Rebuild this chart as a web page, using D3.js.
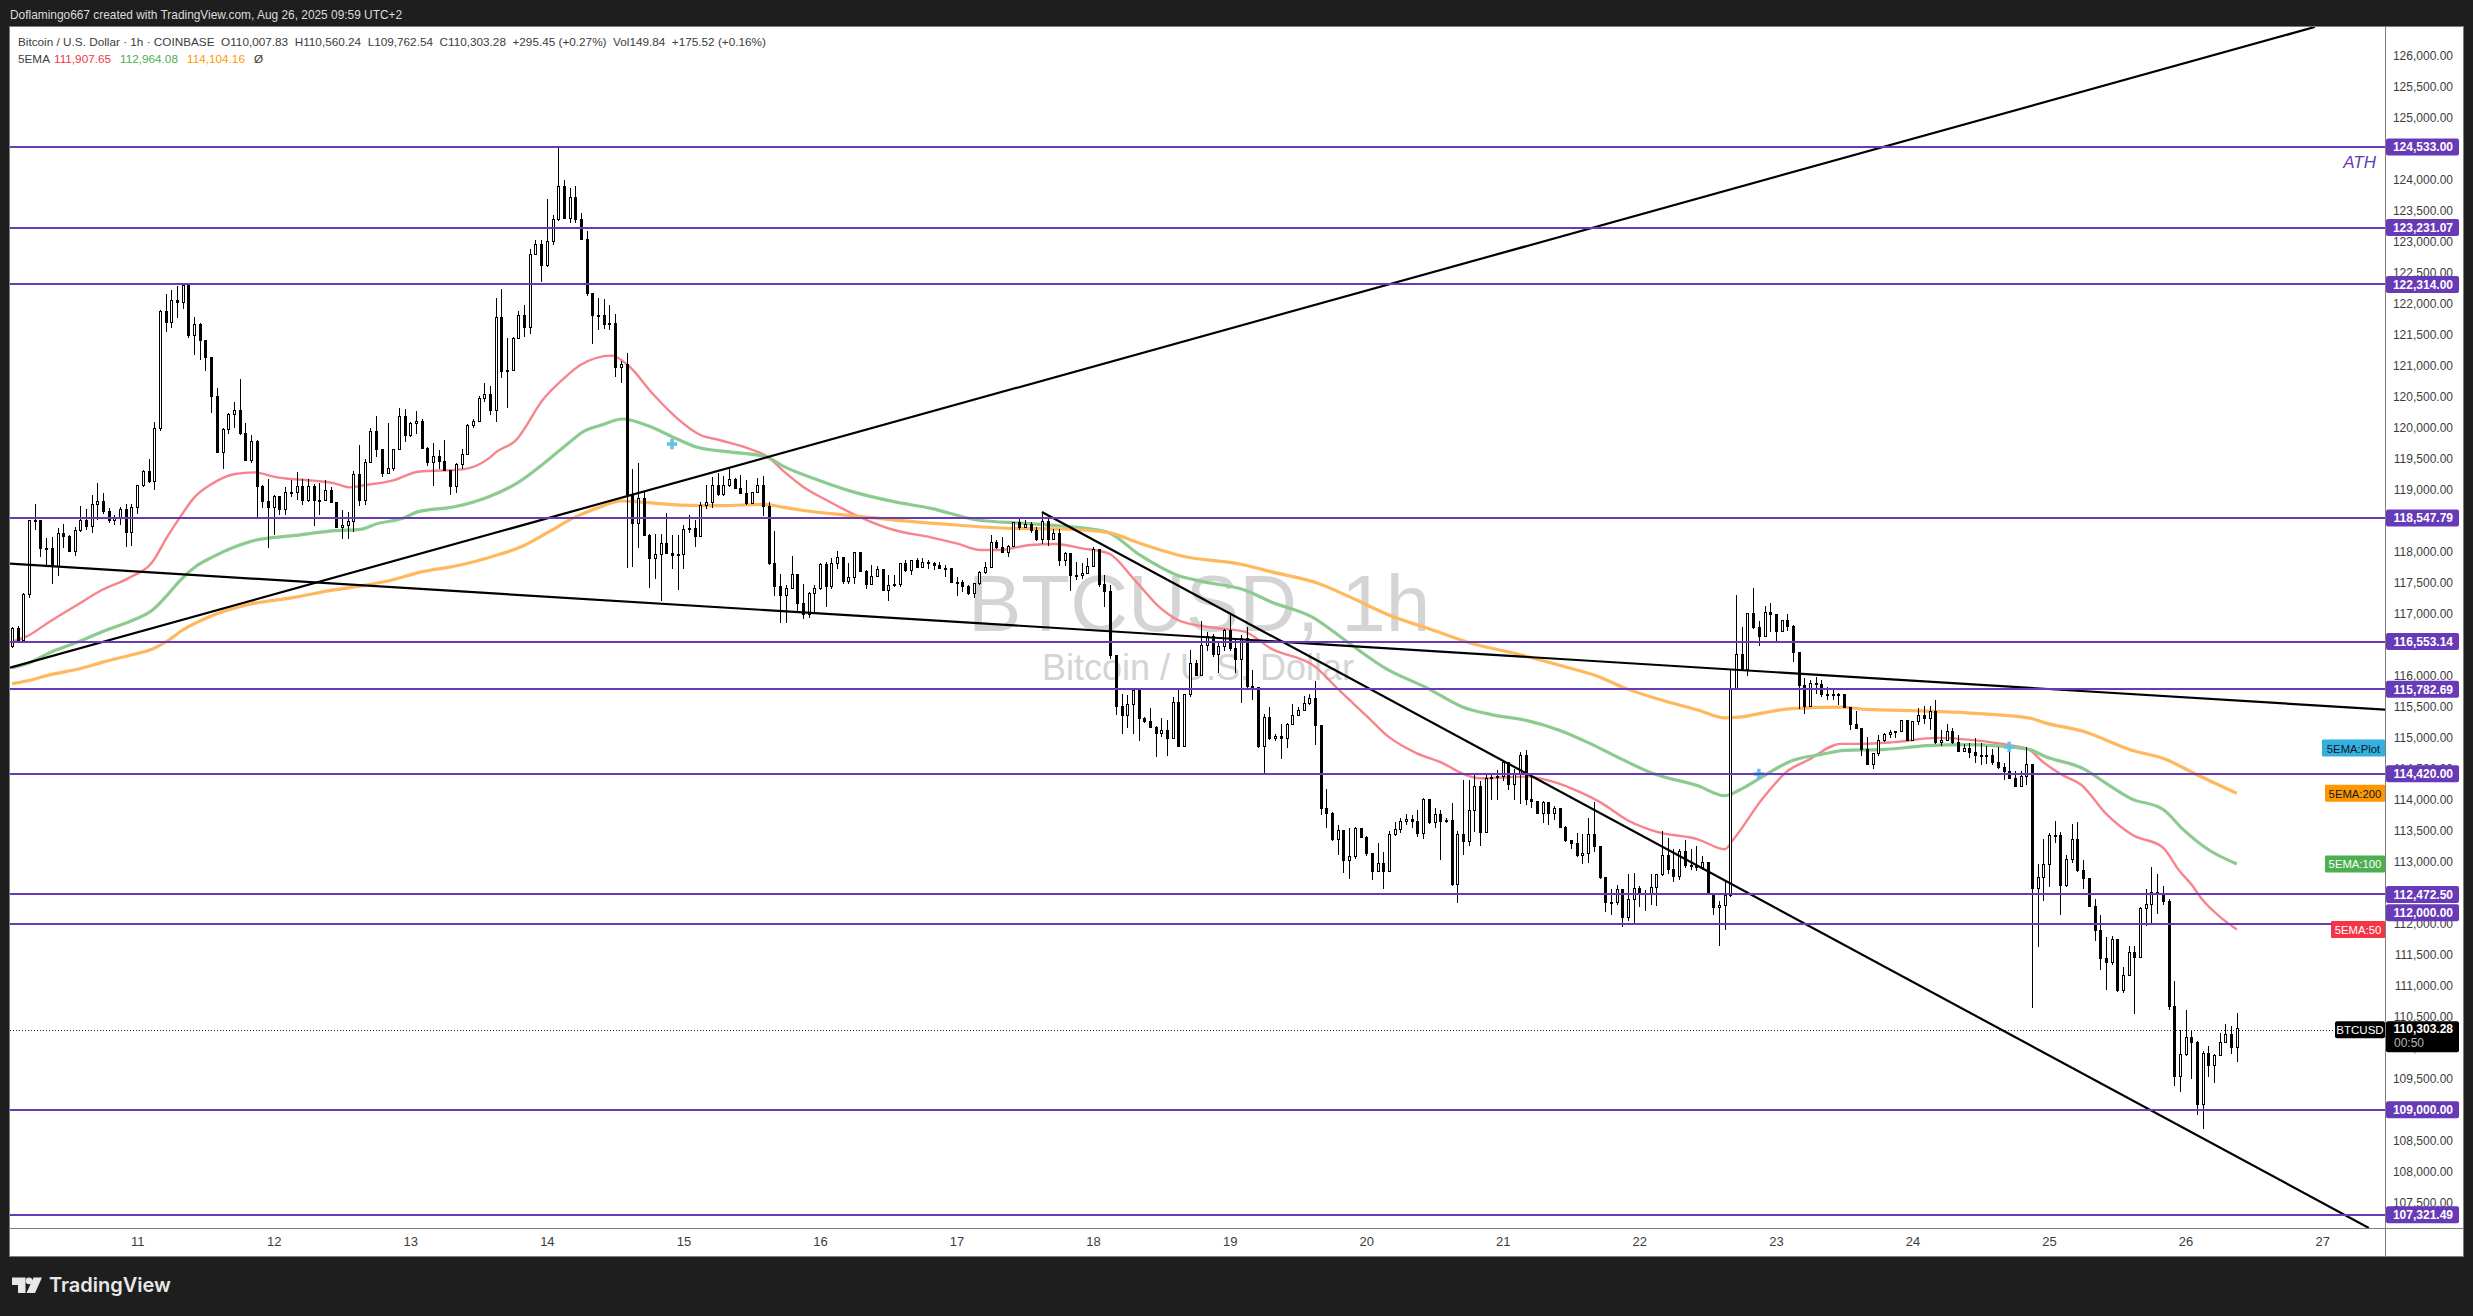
<!DOCTYPE html>
<html>
<head>
<meta charset="utf-8">
<script src="https://cdnjs.cloudflare.com/ajax/libs/d3/7.8.5/d3.min.js"></script>
<style>
  html, body { margin: 0; padding: 0; background: #1e1e1e; }
  svg { display: block; }
  text { font-family: "Liberation Sans", Arial, sans-serif; }
  .domain { display: none; }
</style>
</head>
<body>
<svg id="chart" width="2473" height="1316"></svg>
<script>
// hourly candles, Aug 10 02:00 onwards
const candleClose = [
  116765,116577,117319,118513,118500,118056,118050,117760,118298,118250,
  118003,118341,118513,118416,118766,118804,118648,118513,118535,118675,
  118309,118718,119067,119304,119132,119993,121875,121697,122063,122025,
  122290,121498,121660,121407,121138,120504,119600,119966,120218,120276,
  119912,119471,119777,119051,118809,118712,118900,118675,118960,118950,
  119062,118836,119062,118825,118836,118987,118793,118395,118420,118486,
  119255,118836,119438,119939,119643,119266,119347,119643,120181,119870,
  120073,120100,119675,119438,119535,119450,119320,119051,119417,119578,
  120046,120100,120476,120540,120278,121784,120907,120930,121445,121820,
  121622,122805,122961,122612,123004,123354,123902,123380,123714,123365,
  123042,122171,121821,121820,121660,121690,120977,121015,118917,118460,
  118863,118271,117895,117960,118137,117975,117948,117960,118363,118380,
  118255,118755,118798,119078,118917,119078,119170,119024,118944,118780,
  118954,119078,118729,117804,117438,117303,117411,117637,117169,116981,
  117330,117411,117788,117438,117815,117911,117519,117589,117995,117680,
  117465,117600,117717,117374,117449,117465,117815,117696,117852,117750,
  117830,117815,117772,117730,117735,117502,117510,117438,117330,117492,
  117670,117750,118153,118062,117987,118094,118471,118400,118440,118352,
  118202,118497,118202,118299,117868,117965,117610,117625,117650,117770,
  118030,117465,117357,116335,115502,115367,115529,115770,115314,115260,
  115169,115072,115115,114991,115566,114867,115690,116201,116012,116481,
  116631,116336,116470,116728,116443,116255,116604,115825,115810,114857,
  115330,114991,115020,114991,115222,115357,115438,115545,115636,115190,
  113862,113781,113351,113501,113017,113081,113539,113394,113136,112840,
  112974,112840,113432,113512,113647,113680,113647,113459,114007,113630,
  113765,113647,113660,112640,113447,113324,113824,114211,113470,114345,
  114362,114383,114598,114238,114415,114706,114000,113970,113781,113960,
  113781,113860,113555,113340,113300,113093,113125,113447,113243,112748,
  112340,112350,112555,112106,112394,112567,112480,112490,112578,112786,
  113103,112867,112769,113172,112941,112925,112913,112981,112480,112267,
  112290,112452,115794,116341,116100,117004,116773,116629,117021,116992,
  116716,116888,116802,116381,115851,115506,115880,115860,115690,115700,
  115678,115700,115494,115217,115148,114814,114572,114745,114958,115045,
  115090,115100,115275,114958,115263,115362,115304,115419,114929,114958,
  115102,114918,114785,114831,114756,114710,114699,114710,114595,114515,
  114457,114342,114209,114370,114572,112567,112751,112959,113431,113420,
  112613,113040,113362,112855,112728,112279,111887,111443,111368,111749,
  110925,111172,111541,111460,112250,112306,112498,112480,112360,110665,
  109542,109888,110159,110090,109081,109910,109720,109880,110087,110205,
  110007.83,110303.28
];
const candleHigh = [
  116790,116803,117330,118520,118771,118520,118217,118244,118379,118449,
  118270,118395,118739,118685,118917,119116,118954,118700,118594,118728,
  118765,118770,119080,119320,119497,120100,121900,122160,122225,122289,
  122314,122314,121794,121698,121420,121150,120638,119990,120240,120420,
  120788,120084,119885,119800,119078,119170,118920,118904,119040,119160,
  119282,119170,119170,119100,119105,119159,119051,118800,118675,118648,
  119300,119723,119500,119990,120191,119660,120073,119660,120315,120300,
  120100,120277,120150,119690,119760,119643,119804,119320,119430,119653,
  120060,120150,120510,120730,120676,122090,122240,121445,121460,121890,
  121982,122890,123030,123030,123688,123440,124533,124000,123864,123902,
  123462,123182,122181,122090,122080,121980,121840,121085,121200,119330,
  119438,118970,118290,118282,118287,118621,118271,118271,118433,118594,
  118513,118804,119078,119212,119277,119223,119347,119185,119240,119159,
  118970,119185,119223,118809,118336,117642,117464,117932,117640,117481,
  117350,117470,117815,117841,117900,118019,117911,117815,118000,117950,
  117710,117788,117772,117700,117620,117620,117826,117868,117868,117895,
  117895,117868,117840,117840,117788,117735,117600,117545,117460,117500,
  117690,117830,118272,118190,118245,118110,118480,118524,118510,118487,
  118406,118648,118540,118363,118363,118000,117965,117841,117815,117900,
  118083,118030,117626,117465,116335,115706,115690,115800,115780,115329,
  115475,115190,115315,115287,115650,115800,115700,116416,116260,116884,
  116700,116670,116550,116750,117018,116577,116660,116793,116093,115810,
  115380,115502,115060,115220,115240,115545,115500,115674,115700,115910,
  115190,114168,113800,113593,113510,113539,113560,113550,113409,113146,
  113297,113163,113500,113647,113700,113765,113754,113835,114024,114000,
  113862,113835,113700,113953,113500,114319,114319,114437,114300,114400,
  114426,114480,114620,114610,114500,114770,114803,114400,113970,113985,
  113960,113900,113870,113570,113355,113460,113440,113700,113969,113255,
  112760,112555,112620,112555,112809,112826,112610,112540,112809,112800,
  113489,113385,113201,113200,113345,113201,113258,113085,113000,112480,
  112360,112683,116110,117303,116785,117017,117418,116880,117119,117177,
  117000,116900,116992,116820,116381,115970,115925,115978,115937,115822,
  115805,115715,115707,115500,115425,115160,115016,114760,115045,115073,
  115131,115110,115285,115275,115275,115477,115506,115517,115609,115131,
  115229,115160,115045,114900,114918,115000,114918,114872,114814,114843,
  114595,114918,114457,114470,114843,114555,112970,113374,113460,113662,
  113477,113114,113604,113633,113028,112740,112400,112135,111789,111800,
  111760,111300,111645,111645,112270,112567,112913,112797,112613,112400,
  111069,110290,110608,110290,110100,109950,110025,109890,110232,110382,
  110350,110560.24
];
const candleLow = [
  116450,116550,116560,117250,118352,117911,117750,117475,117610,118060,
  117990,117932,118320,118352,118309,118513,118610,118460,118433,118433,
  118083,118094,118610,119050,119115,118997,119955,121552,121606,121767,
  121913,121445,121176,121095,120923,120235,119590,119331,119900,120000,
  119880,119460,119440,118556,118700,118056,118271,118594,118594,118880,
  118836,118755,118809,118416,118594,118820,118780,118390,118201,118201,
  118325,118744,118756,119430,119530,119200,119260,119300,119643,119780,
  119860,119900,119675,119389,119067,119340,119310,118917,118954,119330,
  119570,119990,120100,120423,120207,120100,120800,120316,120920,121437,
  121460,121510,122800,122358,122600,122950,123330,123375,123311,123300,
  123040,122128,121353,121580,121590,121580,120815,120730,117733,117750,
  118056,118260,117422,117556,117212,117960,117717,117384,117717,118298,
  118083,118255,118685,118701,118900,118900,119050,119010,118930,118755,
  118780,118954,118578,117790,117292,116857,116857,117400,117050,116911,
  116927,117000,117385,117115,117400,117730,117480,117480,117480,117670,
  117395,117465,117600,117360,117212,117440,117440,117680,117626,117735,
  117745,117730,117707,117717,117600,117490,117288,117357,117300,117250,
  117470,117650,117750,118050,117975,117922,118094,118350,118380,118300,
  118180,118130,118100,118190,117770,117770,117374,117545,117565,117650,
  117770,117440,117105,116266,115367,115061,115153,115061,114953,115240,
  115160,114695,115020,114706,114991,114850,114880,115660,115990,116012,
  116400,116300,116040,116400,116400,116040,115566,115810,115609,114840,
  114420,114970,114940,114652,114830,115200,115350,115430,115530,114883,
  113754,113540,113330,113109,112813,112716,113050,113380,113100,112705,
  112840,112555,112840,113420,113470,113600,113550,113400,113370,113610,
  113550,113028,113620,112610,112340,113110,113250,113480,113250,113470,
  114000,113996,114300,114150,114000,113930,113915,113860,113770,113620,
  113590,113680,113550,113320,113200,113070,112970,112980,113150,112720,
  112190,112140,112300,111945,112037,112000,112270,112210,112300,112280,
  112770,112800,112665,112700,112900,112860,112850,112860,112470,112135,
  111645,111905,112430,115794,116090,116000,116750,116485,116629,116700,
  116554,116716,116716,116226,115460,115390,115494,115700,115650,115610,
  115610,115535,115480,115130,115140,114700,114560,114497,114700,114930,
  114998,115000,115090,114940,114980,115200,115229,115130,114900,114870,
  114958,114900,114770,114770,114670,114595,114555,114572,114560,114497,
  114324,114330,114200,114200,114240,110637,111616,112365,112590,113310,
  112135,112596,112980,112840,112567,112270,111715,111253,110925,111340,
  110900,110885,111155,110550,111443,111962,112002,112150,112300,110600,
  109386,109283,109870,109500,108908,108680,109520,109435,109880,110085,
  109900,109762.54
];
// every hourly candle opens where the one before it closed
const firstOpen = 116470;
const candleOpen = [firstOpen].concat(candleClose.slice(0, -1));

const ema50Hours = [0,2.5,6.6,11.7,15.8,20.4,24.7,27.3,29.6,31.9,35.1,39.2,42.5,46.6,53,56.7,59.3,62.2,66.8,71.4,79.2,83.8,85.2,88.4,93.5,96.7,99.9,105.4,108.2,112.8,116.9,121,124.3,130.2,132.8,135.7,139,143.1,149.1,155,161.5,166,170.2,173.4,179,183.5,188,192.7,197.3,201.9,205.6,212,216.6,221.2,229,233.2,238.2,241.9,246.9,251.5,254.8,258,266.3,270.8,275.4,279.1,284.1,288.8,296.3,301,302.4,307.8,312.1,315.7,321.4,325,330.7,338.3,345.1,350.9,354.4,356.9,360.1,363.7,368,372.7,378,380.9,383.1,384.9,388.1,391];
const ema50Values = [116550,116631,116873,117158,117384,117572,117841,118244,118567,118863,119094,119255,119282,119202,119148,119105,119040,119078,119148,119293,119331,119508,119616,119788,120477,120773,121014,121165,121014,120531,120154,119885,119804,119643,119535,119293,119051,118836,118557,118352,118234,118137,118030,118030,118110,118126,118056,117976,117546,117088,116873,116766,116712,116443,116147,115771,115341,115018,114749,114588,114426,114346,114373,114292,114130,113961,113662,113489,113362,113201,113345,114036,114468,114641,114901,114901,114929,114998,114958,114883,114814,114612,114411,114238,113777,113431,113230,112855,112625,112394,112106,111907.65];

const ema100Hours = [0,2.5,7,11.7,16.3,20.9,24.7,27.3,29.6,32.4,35.1,39.2,42.9,49.4,56.7,61.3,64,68.7,71.4,77.8,83.8,88.9,93.5,98.1,100.4,103.6,107.3,111.9,116,120.1,125.6,132.5,135.7,142,147.7,155,161.5,169.7,178,184.4,192.3,198.2,204.7,209.3,216.6,221.2,228.6,235,241.4,248.8,254.8,259.8,266.3,271.8,277.3,282.6,288.4,296.3,301,303.5,307.8,312.8,317.8,322.1,329.3,336.5,343.6,354.4,357.3,364.1,368,372.4,378,381.6,385.9,391];
const ema100Values = [116131,116190,116389,116550,116728,116884,117061,117303,117545,117771,117911,118083,118191,118260,118341,118363,118449,118540,118648,118728,118890,119116,119428,119777,119939,120046,120143,120030,119858,119696,119616,119535,119374,119148,118971,118809,118702,118514,118460,118417,118325,117949,117626,117519,117384,117196,116943,116524,116120,115798,115502,115378,115276,115126,114910,114668,114422,114226,114065,114152,114382,114630,114728,114797,114814,114872,114889,114814,114699,114497,114267,114019,113846,113518,113201,112964.08];

const ema200Hours = [0,2.5,7,11.7,16.3,20.9,24.7,27.3,30,34.7,42,49.4,55.8,61.3,66.8,71.4,78.8,84.3,89.8,94.4,98.5,102.7,107.3,111.9,117.4,124.7,132.1,135.7,138.5,147.7,156.9,166,175.3,184.4,192.7,198.2,205.6,216.6,221.2,229.5,235,242.4,248.8,256.1,265.3,271.8,279.1,283.4,289.9,296.3,301,303.5,307.8,312.8,321.4,325.7,336.5,343.6,354.4,357.3,364.1,372.4,378.5,383.2,391];
const ema200Values = [115873,115916,116023,116109,116228,116335,116432,116561,116739,116954,117158,117260,117373,117448,117545,117664,117787,117922,118094,118325,118540,118701,118820,118793,118755,118745,118766,118718,118675,118584,118498,118433,118379,118368,118309,118137,117933,117788,117680,117492,117277,116965,116766,116534,116336,116174,115978,115805,115609,115448,115321,115333,115402,115471,115494,115459,115431,115402,115321,115240,115102,114803,114653,114440,114104.16];

const crossHours = [116, 307, 351];
const crossPrices = [119740, 114416, 114851];

const levelPrices = [124533, 123231.07, 122314, 118547.79, 116553.14, 115782.69, 114420, 112472.5, 112000, 109000, 107321.49];

// hand drawn trend lines
const trendStartHour = [-0.35, -0.35, 181];
const trendStartPrice = [116131, 117809, 118643];
const trendEndHour = [404.7, 417.05, 414.2];
const trendEndPrice = [126468, 115453, 107091];

const dayLabels = [11,12,13,14,15,16,17,18,19,20,21,22,23,24,25,26,27];
const dayHours = [22,46,70,94,118,142,166,190,214,238,262,286,310,334,358,382,406];
const priceTicks = d3.range(107500, 126001, 500);

const lastPrice = 110303.28;
const indicatorNames = ["5EMA:Plot", "5EMA:200", "5EMA:100", "5EMA:50"];
const indicatorPrices = [114834, 114104.16, 112964.08, 111907.65];
const indicatorColors = ["#32b0e0", "#ff9800", "#4caf50", "#f23645"];
const indicatorText = ["#131722", "#131722", "#ffffff", "#ffffff"];

const pane = { left: 10, top: 27, right: 2385, bottom: 1228, outerRight: 2463, outerBottom: 1256 };

const x = d3.scaleLinear().domain([0, 391]).range([12, 2236.8]);
const y = d3.scaleLinear().domain([107500, 126000]).range([1202.6, 56]);

const svg = d3.select("#chart");

svg.append("rect").attr("width", 2473).attr("height", 1316).attr("fill", "#1e1e1e");
svg.append("rect")
  .attr("x", pane.left - 0.5).attr("y", pane.top - 0.5)
  .attr("width", pane.outerRight - pane.left + 1).attr("height", pane.outerBottom - pane.top + 1)
  .attr("fill", "#fff").attr("stroke", "#7d7d7d");

svg.append("clipPath").attr("id", "pane-clip")
  .append("rect")
  .attr("x", pane.left).attr("y", pane.top)
  .attr("width", pane.right - pane.left).attr("height", pane.bottom - pane.top);

const plot = svg.append("g").attr("clip-path", "url(#pane-clip)");

// watermark
plot.append("text").attr("x", 968).attr("y", 631)
  .attr("font-size", 80).attr("fill", "#d4d4d4").text("BTCUSD, 1h");
plot.append("text").attr("x", 1042).attr("y", 680)
  .attr("font-size", 36).attr("fill", "#d4d4d4").text("Bitcoin / U.S. Dollar");

// EMA lines
function drawEma(hours, values, color, width) {
  const line = d3.line()
    .x((d, i) => x(hours[i]))
    .y(d => y(d))
    .curve(d3.curveMonotoneX);
  plot.append("path").datum(values)
    .attr("d", line)
    .attr("fill", "none")
    .attr("stroke", color)
    .attr("stroke-width", width);
}
drawEma(ema50Hours, ema50Values, "#f7848c", 2.4);
drawEma(ema100Hours, ema100Values, "#8ccb8f", 3.2);
drawEma(ema200Hours, ema200Values, "#ffb85c", 3.2);

// candles
const candles = plot.append("g").attr("shape-rendering", "crispEdges");
const hoursIdx = d3.range(candleClose.length);
candles.selectAll("line.wick").data(hoursIdx).join("line")
  .attr("class", "wick")
  .attr("x1", i => Math.round(x(i)) + 0.5)
  .attr("x2", i => Math.round(x(i)) + 0.5)
  .attr("y1", i => y(candleHigh[i]))
  .attr("y2", i => y(candleLow[i]))
  .attr("stroke", "#000");
candles.selectAll("rect.body").data(hoursIdx).join("rect")
  .attr("class", "body")
  .attr("x", i => Math.round(x(i)) - 0.5)
  .attr("width", 2)
  .attr("y", i => y(Math.max(candleOpen[i], candleClose[i])))
  .attr("height", i => Math.max(1, Math.abs(y(candleOpen[i]) - y(candleClose[i]))))
  .attr("fill", i => candleClose[i] >= candleOpen[i] ? "#fff" : "#000")
  .attr("stroke", "#000")
  .attr("stroke-width", 1);

// last price line
const lastY = y(lastPrice) + 1;
plot.append("line")
  .attr("x1", pane.left).attr("x2", pane.right)
  .attr("y1", Math.round(lastY) + 0.5).attr("y2", Math.round(lastY) + 0.5)
  .attr("stroke", "#222").attr("stroke-dasharray", "1 2");

// cross markers
const cross = d3.symbol().type(d3.symbolCross).size(60);
plot.selectAll("path.cross").data(crossHours).join("path")
  .attr("class", "cross")
  .attr("d", cross)
  .attr("transform", (d, i) => `translate(${x(d)},${y(crossPrices[i])})`)
  .attr("fill", "#62c0e4");

// trend lines
plot.selectAll("line.trend").data(trendStartHour).join("line")
  .attr("class", "trend")
  .attr("x1", d => x(d))
  .attr("y1", (d, i) => y(trendStartPrice[i]))
  .attr("x2", (d, i) => x(trendEndHour[i]))
  .attr("y2", (d, i) => y(trendEndPrice[i]))
  .attr("stroke", "#000").attr("stroke-width", 2.2);

// horizontal levels
plot.selectAll("line.level").data(levelPrices).join("line")
  .attr("class", "level")
  .attr("x1", pane.left).attr("x2", pane.right)
  .attr("y1", d => Math.round(y(d)) + (d < 108000 ? 1 : 0))
  .attr("y2", d => Math.round(y(d)) + (d < 108000 ? 1 : 0))
  .attr("stroke", "#673ab7").attr("stroke-width", 2);

plot.append("text").attr("x", 2376).attr("y", 168)
  .attr("text-anchor", "end").attr("font-size", 17).attr("font-style", "italic")
  .attr("fill", "#673ab7").text("ATH");

// axes
svg.append("line").attr("x1", pane.right + 0.5).attr("x2", pane.right + 0.5)
  .attr("y1", pane.top).attr("y2", pane.outerBottom).attr("stroke", "#7d7d7d");
svg.append("line").attr("x1", pane.left).attr("x2", pane.outerRight)
  .attr("y1", pane.bottom + 0.5).attr("y2", pane.bottom + 0.5).attr("stroke", "#7d7d7d");

const yAxis = d3.axisRight(y).tickValues(priceTicks).tickSize(0).tickFormat(d3.format(",.2f"));
const yAxisG = svg.append("g").attr("transform", `translate(${pane.right},0)`).call(yAxis);
yAxisG.selectAll("text")
  .attr("x", 68).attr("text-anchor", "end")
  .attr("font-size", 12).attr("fill", "#3c3c3c")
  .style("font-family", "'Liberation Sans', Arial, sans-serif");

const xAxis = d3.axisBottom(x).tickValues(dayHours).tickSize(0)
  .tickFormat((d, i) => dayLabels[i]);
const xAxisG = svg.append("g").attr("transform", `translate(0,${pane.bottom})`).call(xAxis);
xAxisG.selectAll("text")
  .attr("y", 9).attr("font-size", 13).attr("fill", "#3c3c3c")
  .style("font-family", "'Liberation Sans', Arial, sans-serif");

// purple price tags on the axis
function levelTagY(v) {
  // TradingView pushes the overlapping tag up
  if (v === 112000) return y(v) - 11;
  return v < 108000 ? y(v) + 1 : y(v);
}
const tags = svg.append("g");
tags.selectAll("rect").data(levelPrices).join("rect")
  .attr("x", pane.right + 1).attr("y", d => levelTagY(d) - 8.5)
  .attr("width", 73).attr("height", 17).attr("rx", 2)
  .attr("fill", "#673ab7");
tags.selectAll("text").data(levelPrices).join("text")
  .attr("x", 2453).attr("y", d => levelTagY(d) + 4.5)
  .attr("text-anchor", "end").attr("font-size", 12).attr("font-weight", "bold")
  .attr("fill", "#fff").text(d3.format(",.2f"));

// current price tag
svg.append("rect").attr("x", pane.right + 1).attr("y", lastY - 8.5)
  .attr("width", 73).attr("height", 31).attr("rx", 2).attr("fill", "#000");
svg.append("text").attr("x", 2453).attr("y", lastY + 3.5)
  .attr("text-anchor", "end").attr("font-size", 12).attr("font-weight", "bold")
  .attr("fill", "#fff").text(d3.format(",.2f")(lastPrice));
svg.append("text").attr("x", 2394).attr("y", lastY + 17)
  .attr("font-size", 12).attr("fill", "#b8b8b8").text("00:50");
svg.append("rect").attr("x", 2335).attr("y", lastY - 8.5)
  .attr("width", 50).attr("height", 17).attr("rx", 2).attr("fill", "#000");
svg.append("text").attr("x", 2360).attr("y", lastY + 4.5)
  .attr("text-anchor", "middle").attr("font-size", 11.5).attr("fill", "#fff").text("BTCUSD");

// indicator tags
const tagWidths = [63, 60, 60, 54];
const indTags = svg.append("g");
indTags.selectAll("rect").data(indicatorNames).join("rect")
  .attr("x", (d, i) => pane.right - tagWidths[i])
  .attr("y", (d, i) => y(indicatorPrices[i]) - 8.5)
  .attr("width", (d, i) => tagWidths[i]).attr("height", 17).attr("rx", 1)
  .attr("fill", (d, i) => indicatorColors[i]);
indTags.selectAll("text").data(indicatorNames).join("text")
  .attr("x", (d, i) => pane.right - tagWidths[i] / 2)
  .attr("y", (d, i) => y(indicatorPrices[i]) + 4.5)
  .attr("text-anchor", "middle").attr("font-size", 11.3)
  .attr("fill", (d, i) => indicatorText[i]).text(d => d);

// header + legend
svg.append("text").attr("x", 10).attr("y", 19).attr("font-size", 11.9).attr("fill", "#dcdcdc")
  .text("Doflamingo667 created with TradingView.com, Aug 26, 2025 09:59 UTC+2");

svg.append("text").attr("x", 18).attr("y", 45.5).attr("font-size", 11.75).attr("fill", "#3c3c3c")
  .attr("xml:space", "preserve")
  .text("Bitcoin / U.S. Dollar · 1h · COINBASE  O110,007.83  H110,560.24  L109,762.54  C110,303.28  +295.45 (+0.27%)  Vol149.84  +175.52 (+0.16%)");

const legendLabels = ["5EMA", "111,907.65", "112,964.08", "114,104.16", "Ø"];
const legendColors = ["#3c3c3c", "#f23645", "#4caf50", "#ff9800", "#3c3c3c"];
const legendX = [18, 54, 120, 187, 254];
svg.selectAll("text.legend").data(legendLabels).join("text")
  .attr("class", "legend")
  .attr("x", (d, i) => legendX[i]).attr("y", 63)
  .attr("font-size", 11.75)
  .attr("fill", (d, i) => legendColors[i])
  .text(d => d);

// TradingView mark
svg.append("path")
  .attr("d", "M12 1277.5H25.5V1293H18V1285H12Z M35 1293L42 1277.5H33.5L26.5 1293Z")
  .attr("fill", "#e8e8e8");
svg.append("circle").attr("cx", 29).attr("cy", 1280.8).attr("r", 3.4).attr("fill", "#e8e8e8");
svg.append("text").attr("x", 49).attr("y", 1292)
  .attr("font-size", 20).attr("font-weight", 600)
  .style("font-family", "Inter, 'Liberation Sans', sans-serif")
  .attr("fill", "#e8e8e8").text("TradingView");
</script>
</body>
</html>
